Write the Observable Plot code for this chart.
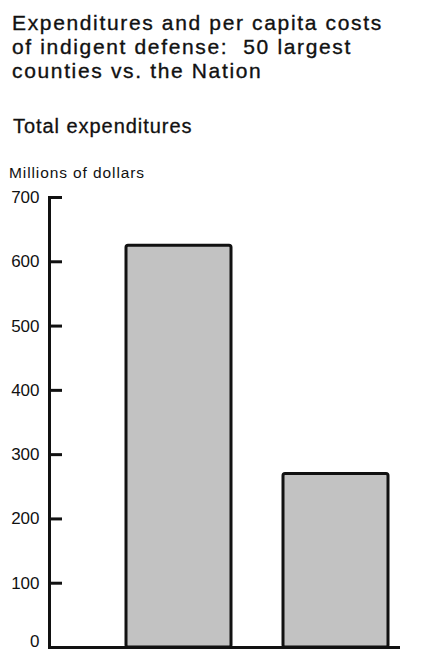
<!DOCTYPE html>
<html>
<head>
<meta charset="utf-8">
<script src="https://cdn.jsdelivr.net/npm/d3@7"></script>
<script src="https://cdn.jsdelivr.net/npm/@observablehq/plot@0.6"></script>
<style>
  html, body { margin: 0; padding: 0; background: #fff; }
  body { width: 426px; height: 650px; position: relative; overflow: hidden; font-family: "Liberation Sans", Arial, sans-serif; color: #111; }
  #title { position: absolute; left: 12px; top: 11px; font-size: 21px; line-height: 24px; letter-spacing: 1.65px; -webkit-text-stroke: 0.35px #111; white-space: nowrap; }
  #sub { position: absolute; left: 13px; top: 114px; font-size: 20px; line-height: 24px; letter-spacing: 0.95px; -webkit-text-stroke: 0.3px #111; white-space: nowrap; }
  #ylab { position: absolute; left: 9px; top: 163px; font-size: 15.5px; line-height: 20px; letter-spacing: 0.9px; white-space: nowrap; }
  #chart { position: absolute; left: 0; top: 185px; }
</style>
</head>
<body>
<div id="title">Expenditures and per capita costs<br>of indigent defense:&nbsp; 50 largest<br>counties vs. the Nation</div>
<div id="sub">Total expenditures</div>
<div id="ylab">Millions of dollars</div>
<div id="chart"></div>
<script>
const categories = ["50 largest counties", "Nation"];
const expenditures = [625, 270];
const yTicks = [0, 100, 200, 300, 400, 500, 600, 700];

const data = categories.map((c, i) => ({category: c, value: expenditures[i]}));
const nonZeroTicks = yTicks.filter(d => d > 0);
const zeroTick = yTicks.filter(d => d === 0);

const W = 426, ML = 49, MR = 26, TICK_LEN = 13;

const chart = Plot.plot({
  width: W,
  height: 465,
  marginTop: 12,
  marginBottom: 3,
  marginLeft: ML,
  marginRight: MR,
  style: {fontFamily: "Liberation Sans, Arial, sans-serif", fontSize: "17px", color: "#111", background: "transparent", overflow: "visible"},
  x: {domain: categories, paddingInner: 0.333, paddingOuter: 0.281, align: 0.86, axis: null},
  y: {domain: [0, 700], ticks: yTicks, label: null, axis: null},
  marks: [
    Plot.barY(data, {x: "category", y: "value", fill: "#c2c2c2", stroke: "#111", strokeWidth: 3, rx: 2}),
    // inward tick marks (drawn from the axis line toward the plot)
    Plot.tickY(nonZeroTicks, {y: d => d, stroke: "#111", strokeWidth: 3, insetRight: W - ML - MR - TICK_LEN}),
    // tick labels
    Plot.axisY(nonZeroTicks, {tickSize: 0, tickPadding: 10, stroke: "none", fill: "#111", fontSize: 17, label: null}),
    Plot.axisY(zeroTick, {tickSize: 0, tickPadding: 10, stroke: "none", fill: "#111", fontSize: 17, dy: -6, label: null}),
    Plot.frame({anchor: "left", stroke: "#111", strokeWidth: 3}),
    Plot.ruleY([0], {stroke: "#111", strokeWidth: 3})
  ]
});
document.getElementById("chart").appendChild(chart);
</script>
</body>
</html>
